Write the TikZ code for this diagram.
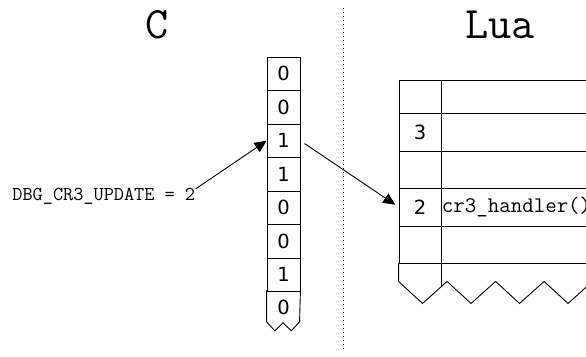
\documentclass[tikz,border=0pt]{standalone}
\usepackage{fontspec}
\setmainfont{DejaVu Sans}
\usetikzlibrary{arrows.meta,positioning,calc}

\begin{document}
\begin{tikzpicture}[
        x=1pt, y=-1pt,
        line width=0.9pt,
        bitcell/.style={rectangle, draw, minimum width=33pt, minimum height=33.5pt, inner sep=0pt, font=\fontsize{19.5}{19.5}\selectfont},
        luaidx/.style={rectangle, draw, minimum width=42pt, inner sep=0pt, font=\fontsize{19.5}{19.5}\selectfont},
        luafn/.style={rectangle, draw, minimum width=160pt, inner sep=0pt},
        title/.style={font=\ttfamily\fontsize{45}{45}\selectfont},
        code/.style={font=\ttfamily\fontsize{19.7}{19.7}\selectfont, inner sep=0pt},
        arrow/.style={-{Triangle[length=12pt,width=11pt]}},
        divider/.style={dash pattern=on 1pt off 3pt, line width=0.8pt}
    ]
        \clip (0,0) rectangle (586,356);

        % Titles
        \node[title] (ctitle) at (157,25) {C};
        \node[title] (luatitle) at (500,25) {Lua};

        % Divider between the two sides
        \coordinate (divtop) at (343.5,8);
        \coordinate (divbot) at (343.5,352);
        \draw[divider] (divtop) -- (divbot);

        % C side: bit array
        \foreach \b [count=\i] in {0,0,1,1,0,0,1} {
            \node[bitcell] (b\i) at (283.5, {40.25+33.5*\i}) {\b};
        }
        \node[bitcell, draw=none] (b8) at (283.5,307.5) {0};
        \draw (b8.north west) -- ++(0,31.5) -- ++(8.25,9) -- ++(8.25,-8)
              -- ++(8.25,8) -- ++(8.25,-9) -- (b8.north east);

        % Event id
        \node[code, anchor=base west] (update) at (12,200) {DBG\_CR3\_UPDATE = 2};
        \coordinate (updateend) at ([yshift=11pt]update.base east);
        \draw[arrow] (updateend) -- (b3.west);

        % Lua side: handler table
        \foreach \i/\yc/\hh/\txt in {1/96.5/33/{}, 2/132/38/3, 3/169.5/37/{}, 4/207/38/2, 5/244.5/37/{}} {
            \node[luaidx, minimum height=\hh pt] (k\i) at (420,\yc) {\txt};
            \node[luafn, minimum height=\hh pt, anchor=west] (h\i) at (k\i.east) {};
        }
        \draw (k5.south west) -- ++(0,18) -- ++(24,22) -- ++(24.5,-22) -- ++(24,22)
              -- ++(24.5,-22) -- ++(24,22) -- ++(24.5,-22) -- ++(24,22) -- ++(24.5,-22) -- ++(0,-18);
        \draw (k5.south east) -- ++(0,23.8);
        \node[code, font=\ttfamily\fontsize{22.3}{22.3}\selectfont, anchor=west] (handler) at (h4.west) {cr3\_handler()};

        \draw[arrow, shorten <=5pt, shorten >=4pt] (b3.east) -- (k4.west);

    \end{tikzpicture}
\end{document}
